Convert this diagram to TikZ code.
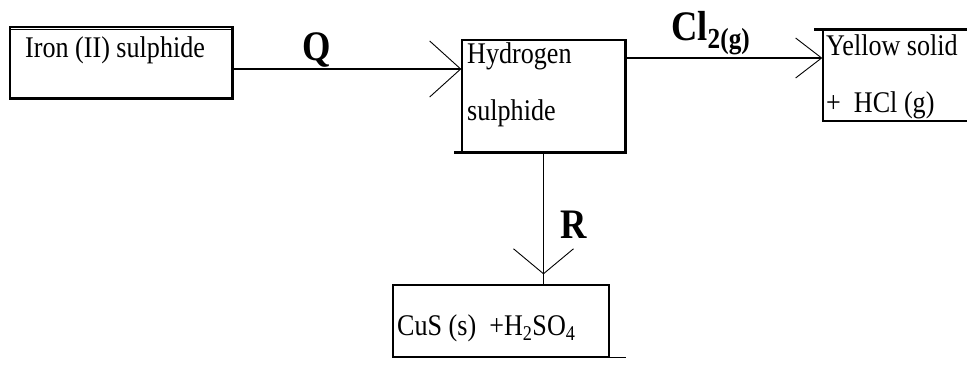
\documentclass[tikz,border=0pt]{standalone}
\usepackage{fontspec}
\setmainfont{Liberation Serif}[FakeStretch=0.87]
\usetikzlibrary{positioning,arrows.meta}
\tikzset{>=Stealth}

\tikzset{
  box/.style={draw, line width=1.3pt, inner sep=0pt},
  boxtxt/.style={anchor=base west, inner sep=0pt, font=\fontsize{30}{30}\selectfont},
  reag/.style={anchor=base west, inner sep=0pt, font=\fontsize{42}{42}\selectfont\bfseries},
  barb/.style 2 args={-{Straight Barb[length=#1,width=#2,line width=0.9pt]}, line width=1.3pt},
}

\begin{document}
\begin{tikzpicture}[x=1pt,y=-1pt]
  \useasboundingbox (0,0) rectangle (967,365);

  % Boxes
  \node[box, minimum width=222pt, minimum height=71pt] (iron) at (121,62.5) {};
  \node[box, minimum width=163pt, minimum height=112pt] (hyd) at (543.5,96) {};
  \node[box, minimum width=147pt, minimum height=91pt] (yel) at (896.5,75.5) {};
  \node[box, minimum width=216pt, minimum height=72pt] (cus) at (501,321) {};

  % Heavier edges
  \draw[line width=0.8pt] ([yshift=-3.5pt]iron.north west) -- ([yshift=-3.5pt]iron.north east);
  \draw[line width=2.6pt] (iron.north east) -- (iron.south east) -- (iron.south west);
  \draw[line width=2.6pt] (hyd.north east) -- (hyd.south east) -- ([xshift=-7pt]hyd.south west);
  \draw[line width=2.6pt] ([xshift=-8pt]yel.north west) -- (yel.north east);
  \draw[line width=1.3pt] (cus.south east) -- ++(16,0);

  % Box texts
  \node[boxtxt] (ironT) at (25,57) {Iron (II) sulphide};
  \node[boxtxt] (hydT1) at (467,63) {Hydrogen};
  \node[boxtxt] (hydT2) at (467,120) {sulphide};
  \node[boxtxt] (yelT1) at (826,55) {Yellow solid};
  \node[boxtxt] (yelT2) at (826,112) {+\ \ HCl (g)};
  \node[boxtxt] (cusT) at (397,335) {CuS (s)\ \ +H\textsubscript{2}SO\textsubscript{4}};

  % Reagents
  \node[reag] (Q) at (302,60) {Q};
  \node[reag] (R) at (560,238) {R};
  \node[reag] (Cl) at (671,40)
    {Cl\raisebox{-8pt}{\fontsize{29}{29}\selectfont 2(g)}};

  % Connectors
  \coordinate (qS) at ([yshift=-6.5pt]iron.east);
  \draw[barb={31pt}{56pt}] (qS) -- (qS -| hyd.west);
  \coordinate (clS) at ([yshift=38pt]hyd.east);
  \draw[barb={26pt}{40pt}] (clS) -- (clS -| yel.west);
  \coordinate (rB) at (hyd.south |- cus.north);
  \coordinate (rE) at ([yshift=10pt]rB);
  \draw[barb={25pt}{60pt}] (hyd.south) -- (rE);
  \draw[line width=1.3pt] (rE) -- (rB);
\end{tikzpicture}
\end{document}
